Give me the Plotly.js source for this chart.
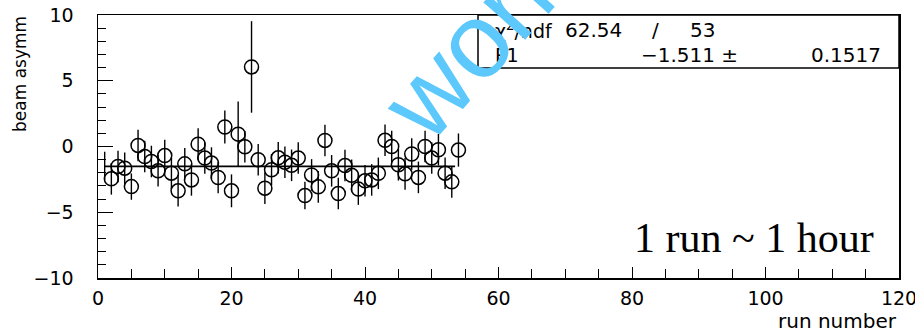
<!DOCTYPE html>
<html>
<head>
<meta charset="utf-8">
<script src="https://cdn.plot.ly/plotly-3.0.1.min.js"></script>
<style>html,body{margin:0;padding:0;background:#fff;}#chart{width:915px;height:333px;}</style>
</head>
<body>
<div id="chart"></div>
<script>
// ---- data ----
const runs = [2,3,4,5,6,7,8,9,10,11,12,13,14,15,16,17,18,19,20,21,22,23,24,25,26,27,28,29,30,31,32,33,34,35,36,37,38,39,40,41,42,43,44,45,46,47,48,49,50,51,52,53,54];
const asym = [-2.46,-1.52,-1.65,-3.05,0.08,-0.76,-1.14,-1.85,-0.69,-2.03,-3.37,-1.32,-2.54,0.18,-0.88,-1.26,-2.36,1.48,-3.37,0.94,-0.02,6.05,-1.01,-3.17,-1.77,-0.86,-1.2,-1.43,-0.88,-3.73,-2.16,-3.07,0.46,-1.85,-3.58,-1.45,-2.19,-3.24,-2.61,-2.54,-2.04,0.47,0.0,-1.39,-2.08,-0.57,-2.35,0.0,-0.88,-0.25,-2.03,-2.69,-0.27];
const asymErr = [1.2,1.2,1.2,1.0,1.2,1.2,1.2,1.2,1.2,1.2,1.2,1.2,1.2,1.2,1.2,1.2,1.2,1.25,1.25,2.48,1.2,3.48,1.2,1.2,1.2,1.2,1.2,1.2,1.2,1.05,1.2,1.2,1.2,1.2,1.2,1.2,1.2,1.2,1.2,1.2,1.2,1.2,1.2,1.2,1.2,1.2,1.2,1.2,1.2,1.2,1.2,1.2,1.26];
const firstRun = [1];
const firstAsym = [-1.47];
const firstErr = [1.07];
const fitRange = [1, 53.5];
const fitChi2 = "62.54";
const fitNdf = "53";
const fitP1 = -1.511;
const fitP1Err = "0.1517";
const xTicks = [0,20,40,60,80,100,120];
const yTicks = [-10,-5,0,5,10];
const yTickText = ["\u221210","\u22125","0","5","10"];

// ---- helpers: pixel -> paper ----
const L=98, R=899, T=15, B=278;
const px = v => (v-L)/(R-L);
const py = v => (B-v)/(B-T);

const font = "DejaVu Sans, sans-serif";

const traces = [
  {
    x: runs, y: asym, type: 'scatter', mode: 'markers',
    marker: {symbol: 'circle-open', size: 14, color: '#000', line: {width: 1.5, color: '#000'}},
    error_y: {type: 'data', array: asymErr, visible: true, width: 0, thickness: 1.4, color: '#000'},
    hoverinfo: 'skip', showlegend: false
  },
  {
    x: firstRun, y: firstAsym, type: 'scatter', mode: 'markers',
    marker: {size: 1, color: 'rgba(0,0,0,0)'},
    error_y: {type: 'data', array: firstErr, visible: true, width: 0, thickness: 1.4, color: '#000'},
    hoverinfo: 'skip', showlegend: false
  },
  {
    x: fitRange, y: fitRange.map(() => fitP1), type: 'scatter', mode: 'lines',
    line: {color: '#000', width: 1.6}, hoverinfo: 'skip', showlegend: false
  }
];

const ann = (text, x, y, xanchor, size, extra) => Object.assign({
  text, x, y, xref: 'paper', yref: 'paper', xanchor, yanchor: 'middle',
  showarrow: false, font: {family: font, size, color: '#000'}
}, extra || {});

const layout = {
  width: 915, height: 333,
  margin: {l: L, r: 915-R, t: T, b: 333-B, pad: 0},
  paper_bgcolor: '#fff', plot_bgcolor: '#fff',
  showlegend: false,
  xaxis: {
    range: [0,120], tickmode: 'array', tickvals: xTicks, ticktext: xTicks.map(String),
    ticks: 'inside', ticklen: 11, tickwidth: 1, tickcolor: '#000',
    minor: {dtick: 5, ticks: 'inside', ticklen: 9, tickwidth: 1, tickcolor: '#000'},
    showline: true, linecolor: '#000', linewidth: 1.5, mirror: true,
    showgrid: false, zeroline: false, ticklabeloverflow: 'allow',
    tickfont: {family: font, size: 19, color: '#000'}, ticklabelstandoff: 3
  },
  yaxis: {
    range: [-10,10], tickmode: 'array', tickvals: yTicks, ticktext: yTickText,
    ticks: 'inside', ticklen: 15, tickwidth: 1, tickcolor: '#000',
    minor: {dtick: 1, ticks: 'inside', ticklen: 8, tickwidth: 1, tickcolor: '#000'},
    showline: true, linecolor: '#000', linewidth: 1.5, mirror: true,
    showgrid: false, zeroline: false, ticklabeloverflow: 'allow',
    tickfont: {family: font, size: 19, color: '#000'}, ticklabelstandoff: 19
  },
  shapes: [
    {type: 'rect', xref: 'paper', yref: 'paper', x0: px(478), x1: 1, y0: py(68), y1: 1,
     line: {color: '#000', width: 1.5}, fillcolor: '#fff', layer: 'above'}
  ],
  annotations: [
    ann('beam asymm', px(20), py(74), 'center', 17, {textangle: -90}),
    ann('run number', px(837.5), py(321), 'center', 20),
    ann('\u03c7<sup>2</sup>/ndf', px(493), py(30), 'left', 19),
    ann(fitChi2, px(563), py(30), 'left', 20),
    ann('/', px(655), py(30), 'center', 20),
    ann(fitNdf, px(717), py(30), 'right', 20),
    ann('P1', px(493), py(55), 'left', 19),
    ann(fitP1.toFixed(3).replace('-', '\u2212') + ' \u00b1', px(740), py(55), 'right', 20),
    ann(fitP1Err, px(883), py(55), 'right', 20),
    ann('1 run ~ 1 hour', px(754), py(238), 'center', 42, {font: {family: 'Liberation Serif, Times New Roman, serif', size: 42, color: '#000'}}),
    ann('work', px(477), py(38), 'center', 106, {textangle: -48, font: {family: 'Liberation Sans, Arial, sans-serif', size: 106, color: 'rgb(92,200,252)'}})
  ]
};

Plotly.newPlot('chart', traces, layout, {staticPlot: true, displayModeBar: false});
</script>
</body>
</html>
